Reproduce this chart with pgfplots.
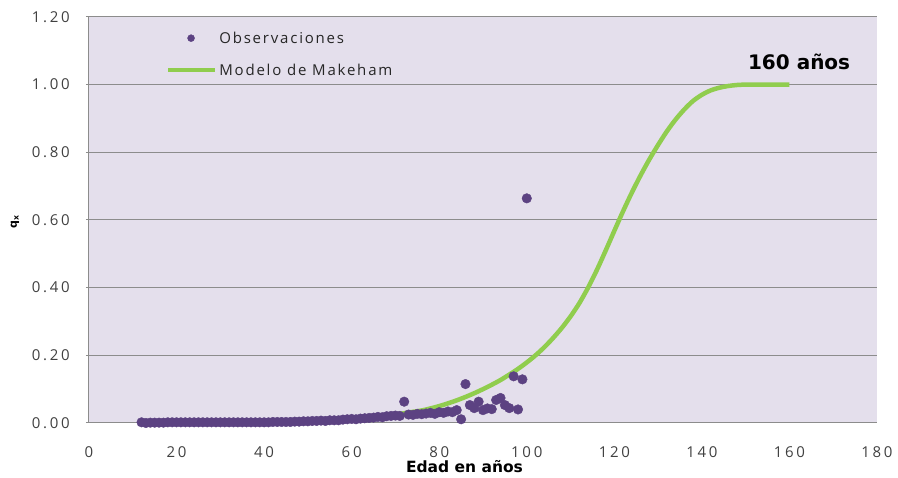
\documentclass[border=0pt]{standalone}
\usepackage{pgfplots}
\pgfplotsset{compat=1.18}
\usepackage{fontspec}
\setmainfont{Open Sans}
\newfontfamily\tickfont{Open Sans}[LetterSpace=18]
\newfontfamily\legfont{Open Sans}[LetterSpace=12]
\newfontfamily\bfam{DejaVu Sans}
\definecolor{bgl}{RGB}{228,223,236}
\definecolor{gridc}{RGB}{140,140,140}
\definecolor{dotc}{RGB}{92,66,130}
\definecolor{linec}{RGB}{144,205,78}
\pgfplotsset{
  lineleg/.style={legend image code/.code={\draw[##1] (0pt,0pt) -- (47pt,0pt);}},
  dotleg/.style={legend image code/.code={\draw[##1, mark size=3.5pt] plot coordinates {(23pt,0pt)};}},
}
\begin{document}
\begin{tikzpicture}
\useasboundingbox (-89pt,-55pt) rectangle (809pt,423pt);
\begin{axis}[
  scale only axis,
  width=788pt, height=406pt,
  xmin=0, xmax=180, ymin=0, ymax=1.2,
  xtick={0,20,...,180},
  ytick={0,0.2,0.4,0.6,0.8,1.0,1.2},
  axis x line*=bottom, axis y line*=left,
  axis line style={gridc, line width=1pt},
  axis background/.style={fill=bgl},
  ymajorgrids,
  grid style={gridc, line width=1pt},
  tick align=outside,
  major tick length=3pt,
  xtick style={draw=none},
  ytick style={gridc, line width=1pt},
  /pgf/number format/assume math mode=true,
  yticklabel={\pgfmathprintnumber[fixed,fixed zerofill,precision=2]{\tick}},
  xticklabel style={anchor=center, yshift=-26pt, font=\tickfont\fontsize{15}{18}\selectfont, text=black!75},
  yticklabel style={anchor=east, inner sep=0pt, xshift=-16pt, font=\tickfont\fontsize{15}{18}\selectfont, text=black!75},
  xlabel={Edad en años},
  x label style={at={(rel axis cs:0.4765,0)}, anchor=center, yshift=-44pt, font=\bfam\bfseries\fontsize{15.5}{18}\selectfont},
  ylabel={q\textsubscript{x}},
  y label style={at={(rel axis cs:0,0.495)}, anchor=center, yshift=74pt, font=\bfam\bfseries\fontsize{11}{13}\selectfont},
  reverse legend,
  legend cell align=left,
  legend style={at={(axis cs:17.5,1.163)}, anchor=north west, draw=none, fill=none, inner sep=0pt,
    row sep=15pt, font=\legfont\fontsize{15}{18}\selectfont, text=black!85,
    nodes={inner sep=2pt}},
]
\addplot[linec, line width=4.5pt, smooth, lineleg]
coordinates {
(60,0.012)(65,0.018)(70,0.025)(73,0.031)(76,0.037)(78,0.043)(80,0.050)
(82,0.058)(84,0.067)(86,0.077)(88,0.088)(90,0.100)(92,0.113)(94,0.127)
(96,0.143)(98,0.160)(100,0.179)(102,0.200)(104,0.224)(106,0.251)(108,0.281)
(110,0.315)(112,0.354)(114,0.400)(116,0.452)(118,0.509)(120,0.568)(122,0.626)
(124,0.681)(126,0.732)(128,0.779)(130,0.822)(132,0.862)(134,0.897)(136,0.927)
(138,0.952)(140,0.970)(142,0.983)(144,0.991)(146,0.996)(148,0.999)(150,1.000)
(155,1.000)(160,1.000)
};
\addlegendentry{Modelo de Makeham}
\addplot[only marks, mark=*, mark size=4.8pt, mark options={fill=dotc, draw=dotc}, dotleg]
coordinates {
(12,0.002)(13,0.000)(14,0.001)(15,0.001)(16,0.001)(17,0.001)(18,0.002)(19,0.002)
(20,0.002)(21,0.002)(22,0.002)(23,0.002)(24,0.002)(25,0.002)(26,0.002)(27,0.002)
(28,0.002)(29,0.002)(30,0.002)(31,0.002)(32,0.002)(33,0.002)(34,0.002)(35,0.002)
(36,0.002)(37,0.002)(38,0.002)(39,0.002)(40,0.002)(41,0.002)(42,0.003)(43,0.003)
(44,0.003)(45,0.003)(46,0.003)(47,0.004)(48,0.004)(49,0.005)(50,0.005)(51,0.006)
(52,0.006)(53,0.007)(54,0.006)(55,0.008)(56,0.008)(57,0.008)(58,0.010)(59,0.011)
(60,0.012)(61,0.011)(62,0.013)(63,0.014)(64,0.015)(65,0.016)(66,0.018)(67,0.017)
(68,0.020)(69,0.021)(70,0.022)(71,0.021)(72,0.063)(73,0.025)(74,0.024)(75,0.027)
(76,0.026)(77,0.028)(78,0.030)(79,0.027)(80,0.032)(81,0.030)(82,0.034)(83,0.032)
(84,0.038)(85,0.011)(86,0.115)(87,0.053)(88,0.044)(89,0.063)(90,0.038)(91,0.043)
(92,0.041)(93,0.068)(94,0.074)(95,0.053)(96,0.044)(97,0.138)(98,0.040)(99,0.129)
(100,0.664)
};
\addlegendentry{Observaciones}
\node[font=\bfam\bfseries\fontsize{20}{24}\selectfont] at (axis cs:162.2,1.067) {160 años};
\end{axis}
\end{tikzpicture}
\end{document}
